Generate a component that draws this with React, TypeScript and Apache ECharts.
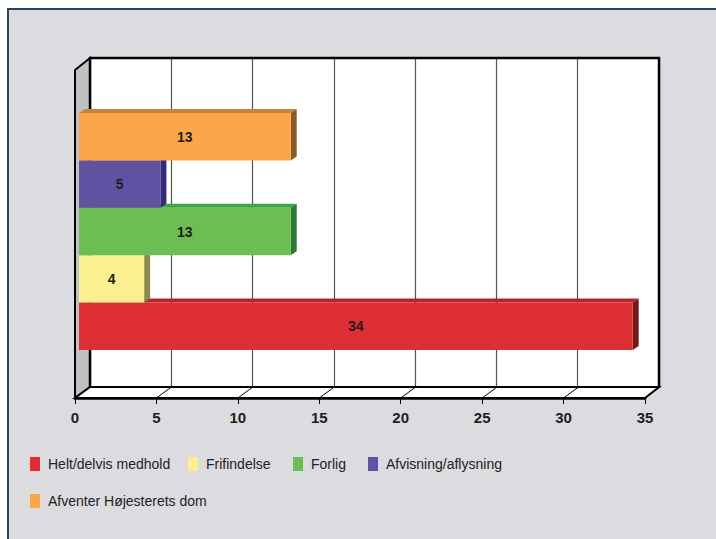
import React, { useEffect, useRef } from "react";
import * as echarts from "echarts";

const categories = [
  "Helt/delvis medhold",
  "Frifindelse",
  "Forlig",
  "Afvisning/aflysning",
  "Afventer Højesterets dom",
];
const values = [34, 4, 13, 5, 13];
const xTicks = [0, 5, 10, 15, 20, 25, 30, 35];

const frontColors = ["#dd2f33", "#fbf091", "#6cbe52", "#5e52a1", "#fba64a"];
const topColors = ["#b1262a", "#c9c276", "#3aa647", "#463b88", "#c8843f"];
const sideColors = ["#751a1c", "#8a884b", "#2b7834", "#352a78", "#8d5a27"];

const legendPos = [
  { left: 30, top: 457 },
  { left: 188, top: 457 },
  { left: 293, top: 457 },
  { left: 368, top: 457 },
  { left: 30, top: 494 },
];

const DX = 6;
const DY = 4;

export default function App() {
  const ref = useRef<HTMLDivElement>(null);
  useEffect(() => {
    if (!ref.current) return;
    const chart = echarts.init(ref.current, undefined, { renderer: "svg" });

    const barSeries = categories.map((name, i) => ({
      type: "custom",
      name,
      xAxisIndex: 2,
      yAxisIndex: 2,
      z: 2 + i,
      itemStyle: { color: frontColors[i] },
      encode: { x: 0, y: 1 },
      data: [[values[i], i]],
      renderItem: (params: any, api: any) => {
        const v = api.value(0);
        const c = api.value(1);
        const p0 = api.coord([0, c]);
        const p1 = api.coord([v, c]);
        const h = api.size([0, 1])[1];
        const top = p0[1] - h / 2;
        const bot = p0[1] + h / 2;
        const x0 = p0[0];
        const x1 = p1[0];
        return {
          type: "group",
          children: [
            {
              type: "polygon",
              shape: { points: [[x0, top], [x1, top], [x1 + DX, top - DY], [x0 + DX, top - DY]] },
              style: { fill: topColors[i] },
            },
            {
              type: "polygon",
              shape: { points: [[x1, top], [x1 + DX, top - DY], [x1 + DX, bot - DY], [x1, bot]] },
              style: { fill: sideColors[i] },
            },
            {
              type: "rect",
              shape: { x: x0, y: top, width: x1 - x0, height: h },
              style: { fill: frontColors[i] },
            },
            {
              type: "text",
              x: (x0 + x1) / 2,
              y: (top + bot) / 2,
              style: {
                text: String(v),
                fill: "#1e1e1e",
                font: "bold 14px 'Liberation Sans', Arial, sans-serif",
                align: "center",
                verticalAlign: "middle",
              },
            },
          ],
        };
      },
    }));

    const floorSeries = {
      type: "custom",
      xAxisIndex: 0,
      yAxisIndex: 0,
      z: 1,
      silent: true,
      data: xTicks.map((t) => [t, 0]),
      renderItem: (params: any, api: any) => {
        const p = api.coord([api.value(0), 0]);
        return {
          type: "line",
          shape: { x1: p[0], y1: p[1], x2: p[0] + 15, y2: p[1] - 11 },
          style: { stroke: "#000", lineWidth: 1 },
        };
      },
    };

    const option: any = {
      animation: false,
      backgroundColor: "#ffffff",
      grid: [
        { left: 75, top: 58, width: 570, height: 340 },
        { left: 90, top: 58, width: 569, height: 329 },
        { left: 79, top: 113, width: 570, height: 237 },
      ],
      xAxis: [
        {
          gridIndex: 0,
          type: "value",
          min: 0,
          max: 35,
          interval: 5,
          axisLine: { show: true, lineStyle: { color: "#000", width: 2.5 } },
          axisTick: { show: true, length: 6, lineStyle: { color: "#000", width: 1 } },
          axisLabel: {
            margin: 12,
            color: "#1e1e1e",
            fontWeight: "bold",
            fontSize: 15,
            fontFamily: "'Liberation Sans', Arial, sans-serif",
          },
          splitLine: { show: false },
          z: 3,
        },
        {
          gridIndex: 1,
          type: "value",
          min: 0,
          max: 35,
          interval: 5,
          axisLine: { show: false },
          axisTick: { show: false },
          axisLabel: { show: false },
          splitLine: { show: true, lineStyle: { color: "#555", width: 1.2 } },
        },
        { gridIndex: 2, type: "value", min: 0, max: 35, show: false },
      ],
      yAxis: [
        { gridIndex: 0, type: "value", min: 0, max: 1, show: false },
        { gridIndex: 1, type: "value", min: 0, max: 1, show: false },
        { gridIndex: 2, type: "category", data: categories, show: false, boundaryGap: true },
      ],
      legend: categories.map((name, i) => ({
        data: [name],
        left: legendPos[i].left,
        top: legendPos[i].top,
        itemWidth: 10,
        itemHeight: 14,
        icon: "rect",
        padding: 0,
        textStyle: {
          color: "#222",
          fontSize: 14,
          fontFamily: "'Liberation Sans', Arial, sans-serif",
          padding: [0, 0, 0, 3],
        },
        selectedMode: false,
      })),
      graphic: [
        { type: "rect", z: -10, shape: { x: 7, y: 8, width: 709, height: 531 }, style: { fill: "#dcdbe0" } },
        { type: "line", z: -9, shape: { x1: 7, y1: 9, x2: 716, y2: 9 }, style: { stroke: "#2d4558", lineWidth: 2 } },
        { type: "line", z: -9, shape: { x1: 8, y1: 8, x2: 8, y2: 539 }, style: { stroke: "#2d4558", lineWidth: 2 } },
        { type: "rect", z: -5, shape: { x: 90, y: 58, width: 569, height: 329 }, style: { fill: "#ffffff" } },
        {
          type: "polygon",
          z: 1,
          shape: { points: [[75, 70], [90, 58], [90, 387], [75, 398]] },
          style: { fill: "#c1c1c5", stroke: "#000", lineWidth: 2 },
        },
        {
          type: "polygon",
          z: 1,
          shape: { points: [[75, 398], [645, 398], [659, 387], [90, 387]] },
          style: { fill: "#ffffff", stroke: "#000", lineWidth: 2 },
        },
        { type: "line", z: 1, shape: { x1: 89, y1: 58, x2: 660, y2: 58 }, style: { stroke: "#000", lineWidth: 2.5 } },
        { type: "line", z: 1, shape: { x1: 659, y1: 57, x2: 659, y2: 388 }, style: { stroke: "#000", lineWidth: 2.5 } },
        { type: "line", z: 1, shape: { x1: 90, y1: 57, x2: 90, y2: 388 }, style: { stroke: "#000", lineWidth: 2.5 } },
      ],
      series: [floorSeries, ...barSeries],
    };
    chart.setOption(option);
    return () => chart.dispose();
  }, []);

  return (
    <div
      ref={ref}
      style={{ position: "fixed", left: 0, top: 0, width: 716, height: 539 }}
    />
  );
}
